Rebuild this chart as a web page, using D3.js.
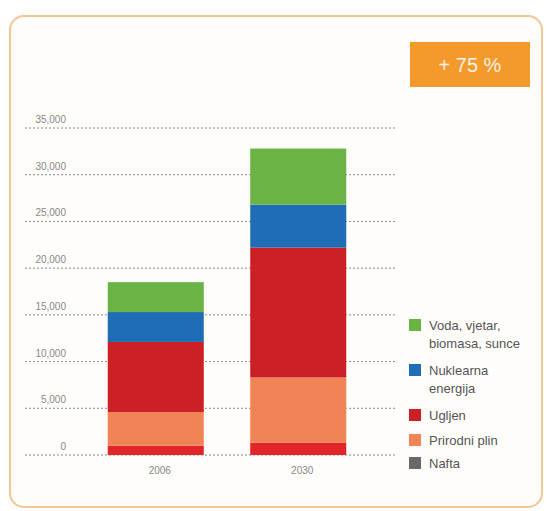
<!DOCTYPE html>
<html>
<head>
<meta charset="utf-8">
<script src="https://cdn.jsdelivr.net/npm/d3@7/dist/d3.min.js"></script>
<style>
  html, body { margin: 0; padding: 0; background: #fff; }
  svg { display: block; }
</style>
</head>
<body>
<svg id="chart" width="547" height="511"></svg>
<script>
// ── Data ─────────────────────────────────────────────────────────────────────
const years = ['2006', '2030'];
// stacked bottom → top
const seriesNames = ['Nafta', 'Prirodni plin', 'Ugljen', 'Nuklearna energija', 'Voda, vjetar, biomasa, sunce'];
const nafta        = [1000, 1300];
const prirodniPlin = [3600, 7000];
const ugljen       = [7500, 13900];
const nuklearna    = [3200, 4600];
const obnovljivi   = [3200, 6000];
const yTicks = [0, 5000, 10000, 15000, 20000, 25000, 30000, 35000];
const badgeText = '+ 75 %';

// legend order (top → bottom), with display lines
const legendItems = [
  { key: 'Voda, vjetar, biomasa, sunce', lines: ['Voda, vjetar,', 'biomasa, sunce'] },
  { key: 'Nuklearna energija',           lines: ['Nuklearna', 'energija'] },
  { key: 'Ugljen',                       lines: ['Ugljen'] },
  { key: 'Prirodni plin',                lines: ['Prirodni plin'] },
  { key: 'Nafta',                        lines: ['Nafta'] },
];

// ── Colors ───────────────────────────────────────────────────────────────────
const BAR_COLORS = {
  'Nafta':                        '#e0262b',
  'Prirodni plin':                '#f08456',
  'Ugljen':                       '#cd2026',
  'Nuklearna energija':           '#1e6db5',
  'Voda, vjetar, biomasa, sunce': '#6ab345',
};
const LEGEND_COLORS = { ...BAR_COLORS, 'Nafta': '#68686a' };

// ── Build table ──────────────────────────────────────────────────────────────
const valuesBySeries = [nafta, prirodniPlin, ugljen, nuklearna, obnovljivi];
const table = years.map((y, i) => {
  const row = { year: y };
  seriesNames.forEach((s, j) => { row[s] = valuesBySeries[j][i]; });
  return row;
});
const stacked = d3.stack().keys(seriesNames)(table);

// ── Layout ───────────────────────────────────────────────────────────────────
const svg = d3.select('#chart');
const FONT = 'Arial, Liberation Sans, sans-serif';

// frame
svg.append('rect')
  .attr('x', 10).attr('y', 16)
  .attr('width', 532).attr('height', 491)
  .attr('rx', 14)
  .attr('fill', '#fefdfa')
  .attr('stroke', '#f2c594')
  .attr('stroke-width', 2);

// badge
svg.append('rect')
  .attr('x', 410).attr('y', 42)
  .attr('width', 120).attr('height', 45)
  .attr('fill', '#f4992b');
svg.append('text')
  .attr('x', 470).attr('y', 72)
  .attr('text-anchor', 'middle')
  .attr('font-family', FONT)
  .attr('font-size', '20px')
  .attr('fill', '#fdf3e4')
  .text(badgeText);

const plot = { left: 25, right: 395, top: 128, bottom: 455 };

const y = d3.scaleLinear()
  .domain([0, 35000])
  .range([plot.bottom, plot.top]);

const x = d3.scaleBand()
  .domain(years)
  .range([60, 394])
  .paddingInner(0.326)
  .paddingOuter(0.335);

// gridlines + tick labels
const grid = svg.append('g');
grid.selectAll('line')
  .data(yTicks)
  .join('line')
    .attr('x1', plot.left).attr('x2', plot.right)
    .attr('y1', d => y(d)).attr('y2', d => y(d))
    .attr('stroke', '#8a8a8a')
    .attr('stroke-width', 1)
    .attr('stroke-dasharray', '2,2');

const fmt = d3.format(',');
grid.selectAll('text')
  .data(yTicks)
  .join('text')
    .attr('x', 66)
    .attr('y', d => y(d) - 5)
    .attr('text-anchor', 'end')
    .attr('font-family', FONT)
    .attr('font-size', '10px')
    .attr('fill', '#888')
    .text(d => fmt(d));

// bars
svg.append('g')
  .selectAll('g')
  .data(stacked)
  .join('g')
    .attr('fill', d => BAR_COLORS[d.key])
  .selectAll('rect')
  .data(d => d)
  .join('rect')
    .attr('x', d => x(d.data.year))
    .attr('y', d => y(d[1]))
    .attr('width', x.bandwidth())
    .attr('height', d => y(d[0]) - y(d[1]));

// x labels
svg.append('g')
  .selectAll('text')
  .data(years)
  .join('text')
    .attr('x', d => x(d) + x.bandwidth() / 2 + 4)
    .attr('y', 474)
    .attr('text-anchor', 'middle')
    .attr('font-family', FONT)
    .attr('font-size', '10px')
    .attr('fill', '#888')
    .text(d => d);

// legend
const legendY = [325, 370, 415, 440, 463];
const legend = svg.append('g');
legendItems.forEach((item, i) => {
  const cy = legendY[i];
  legend.append('rect')
    .attr('x', 409).attr('y', cy - 6)
    .attr('width', 12).attr('height', 12)
    .attr('fill', LEGEND_COLORS[item.key]);
  item.lines.forEach((ln, k) => {
    legend.append('text')
      .attr('x', 429)
      .attr('y', cy + 5 + k * 18)
      .attr('font-family', FONT)
      .attr('font-size', '13px')
      .attr('fill', '#555')
      .text(ln);
  });
});
</script>
</body>
</html>
